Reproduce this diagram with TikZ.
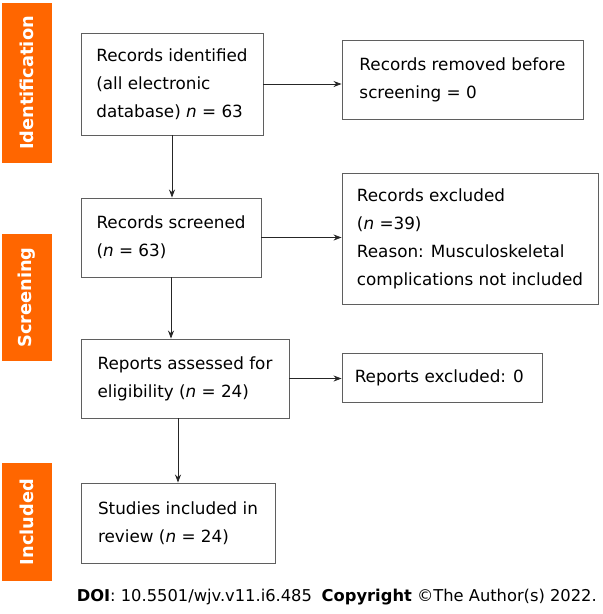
\documentclass[tikz,border=0pt]{standalone}
\usepackage{fontspec}
\setmainfont{DejaVu Sans}
\usetikzlibrary{arrows.meta, positioning}
\definecolor{stageorange}{RGB}{255, 102, 0}
\definecolor{boxgray}{RGB}{95, 95, 95}

\begin{document}
\begin{tikzpicture}[
  x=1pt, y=-1pt,
  flowbox/.style={draw=boxgray, line width=0.9pt, align=left, inner sep=0pt, font=\fontsize{16.8}{28}\selectfont},
  stagebar/.style={fill=stageorange, text=white, rotate=90, inner sep=0pt, font=\fontsize{17.8}{20}\bfseries\selectfont},
  flowarrow/.style={-{Stealth[length=8pt, width=6pt]}, draw=black!85, line width=0.8pt}
]
  \useasboundingbox (0, 0) rectangle (603, 614);

  % stages
  \node[stagebar, minimum width=160, minimum height=50] (stageid) at (27, 83) {Identification};
  \node[stagebar, minimum width=127, minimum height=50] (stagescr) at (27, 297.5) {Screening};
  \node[stagebar, minimum width=118, minimum height=50] (stageinc) at (27, 522) {Included};

  % left column
  \node[flowbox, minimum width=182, minimum height=102] (ident) at (172, 84) {
    Records identified\\
    (all electronic\\
    database) \textit{n} = 63
  };
  \node[flowbox, minimum width=180, minimum height=79] (screened) at (171, 237.5) {
    Records screened\\
    (\textit{n} = 63)
  };
  \node[flowbox, minimum width=208, minimum height=79] (assessed) at (185, 378.5) {
    Reports assessed for\\
    eligibility (\textit{n} = 24)
  };
  \node[flowbox, minimum width=194, minimum height=80] (included) at (178, 523) {
    Studies included in\\
    review (\textit{n} = 24)
  };

  % right column
  \node[flowbox, minimum width=241, minimum height=79] (removed) at (462.5, 79.5) {
    Records removed before\\
    screening = 0
  };
  \node[flowbox, minimum width=256, minimum height=131] (excluded) at (470, 238.5) {
    Records excluded\\
    (\textit{n} =39)\\
    Reason: Musculoskeletal\\
    complications not included
  };
  \node[flowbox, minimum width=200, minimum height=49] (repexcl) at (442, 377.5) {
    Reports excluded: 0
  };

  % connectors
  \draw[flowarrow] (ident.south) -- (ident.south |- screened.north);
  \draw[flowarrow] (screened.south) -- (screened.south |- assessed.north);
  \draw[flowarrow] (assessed.south -| included.north) -- (included.north);
  \draw[flowarrow] (ident.east) -- (ident.east -| removed.west);
  \draw[flowarrow] (screened.east) -- (screened.east -| excluded.west);
  \draw[flowarrow] (assessed.east) -- (assessed.east -| repexcl.west);

  % source line
  \node[anchor=east, inner sep=0pt, font=\fontsize{16.3}{18}\selectfont] (doi) at (597, 597) {\textbf{DOI}: 10.5501/wjv.v11.i6.485\hspace{0.6em}\textbf{Copyright} ©The Author(s) 2022.};
\end{tikzpicture}
\end{document}
